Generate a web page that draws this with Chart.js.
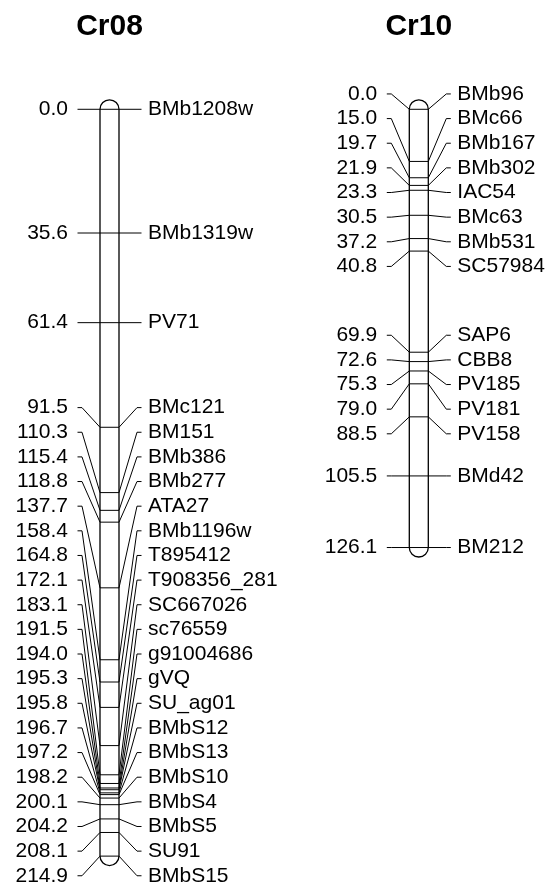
<!DOCTYPE html>
<html>
<head>
<meta charset="utf-8">
<script src="https://cdn.jsdelivr.net/npm/chart.js@4"></script>
<style>
  html, body { margin: 0; padding: 0; background: #fff; }
  canvas { display: block; }
</style>
</head>
<body>
<canvas id="map" width="547" height="886"></canvas>
<script>
// linkage groups
var groupNames = ["Cr08", "Cr10"];

var cr08Pos = [0.0, 35.6, 61.4, 91.5, 110.3, 115.4, 118.8, 137.7, 158.4, 164.8, 172.1, 183.1,
  191.5, 194.0, 195.3, 195.8, 196.7, 197.2, 198.2, 200.1, 204.2, 208.1, 214.9];
var cr08Markers = ["BMb1208w", "BMb1319w", "PV71", "BMc121", "BM151", "BMb386", "BMb277", "ATA27",
  "BMb1196w", "T895412", "T908356_281", "SC667026", "sc76559", "g91004686", "gVQ", "SU_ag01",
  "BMbS12", "BMbS13", "BMbS10", "BMbS4", "BMbS5", "SU91", "BMbS15"];

var cr10Pos = [0.0, 15.0, 19.7, 21.9, 23.3, 30.5, 37.2, 40.8, 69.9, 72.6, 75.3, 79.0, 88.5, 105.5, 126.1];
var cr10Markers = ["BMb96", "BMc66", "BMb167", "BMb302", "IAC54", "BMc63", "BMb531", "SC57984",
  "SAP6", "CBB8", "PV185", "PV181", "PV158", "BMd42", "BM212"];

// layout
var centers = [109.5, 418.8];   // x of each chromosome
var halfW = 9.5;                // half width of the bar
var arm = 22.5;                 // connector length each side
var bend = 4.5;                 // flat part of the connector at the label
var labelGap = 7.09;            // distance between stacked labels (cM)
var FONT = "Liberation Sans, Arial, sans-serif";

// push overlapping labels apart, each block centred on the middle of its markers
function spread(pos) {
  var groups = pos.map(function (p) { return { lo: p, hi: p, n: 1, c: p }; });
  var merged = true;
  while (merged) {
    merged = false;
    for (var i = 0; i < groups.length - 1; i++) {
      var a = groups[i], b = groups[i + 1];
      var aEnd = a.c + (a.n - 1) * labelGap / 2;
      var bStart = b.c - (b.n - 1) * labelGap / 2;
      if (bStart - aEnd < labelGap * 1.1) {
        groups.splice(i, 2, { lo: a.lo, hi: b.hi, n: a.n + b.n, c: (a.lo + b.hi) / 2 });
        merged = true;
        break;
      }
    }
  }
  var out = [];
  groups.forEach(function (g) {
    var first = g.c - (g.n - 1) * labelGap / 2;
    for (var k = 0; k < g.n; k++) out.push(first + k * labelGap);
  });
  return out;
}

var chroms = [
  { name: groupNames[0], pos: cr08Pos, markers: cr08Markers, x: centers[0] },
  { name: groupNames[1], pos: cr10Pos, markers: cr10Markers, x: centers[1] }
];
chroms.forEach(function (c) { c.labels = spread(c.pos); });

function connectorData(c) {
  var pts = [];
  c.pos.forEach(function (p, i) {
    var ly = c.labels[i];
    var l = c.x - halfW, r = c.x + halfW;
    pts.push({ x: l - arm, y: ly }, { x: l - arm + bend, y: ly }, { x: l, y: p },
             { x: r, y: p }, { x: r + arm - bend, y: ly }, { x: r + arm, y: ly },
             { x: r + arm, y: null });
  });
  return pts;
}

var mapPlugin = {
  id: "linkageMap",
  afterDatasetsDraw: function (chart) {
    var ctx = chart.ctx, xs = chart.scales.x, ys = chart.scales.y;
    ctx.save();
    chroms.forEach(function (c) {
      var l = xs.getPixelForValue(c.x - halfW), r = xs.getPixelForValue(c.x + halfW);
      var cx = (l + r) / 2, rad = (r - l) / 2;
      var top = ys.getPixelForValue(c.pos[0]), bot = ys.getPixelForValue(c.pos[c.pos.length - 1]);
      // chromosome body with round ends
      ctx.strokeStyle = "#000";
      ctx.lineWidth = 1.3;
      ctx.beginPath();
      ctx.moveTo(l, bot);
      ctx.lineTo(l, top);
      ctx.arc(cx, top, rad, Math.PI, 0, false);
      ctx.lineTo(r, bot);
      ctx.arc(cx, bot, rad, 0, Math.PI, false);
      ctx.stroke();

      // title
      ctx.fillStyle = "#000";
      ctx.font = "bold 30px " + FONT;
      ctx.textAlign = "center";
      ctx.textBaseline = "middle";
      ctx.fillText(c.name, cx, chart.chartArea.top + 27);

      // labels
      ctx.font = "21px " + FONT;
      c.pos.forEach(function (p, i) {
        var y = ys.getPixelForValue(c.labels[i]);
        ctx.textAlign = "right";
        ctx.fillText(p.toFixed(1), xs.getPixelForValue(c.x - halfW - arm - 9.5), y);
        ctx.textAlign = "left";
        ctx.fillText(c.markers[i], xs.getPixelForValue(c.x + halfW + arm + 6.5), y);
      });
    });
    ctx.restore();
  }
};

new Chart(document.getElementById("map"), {
  type: "line",
  data: {
    datasets: chroms.map(function (c) {
      return {
        label: c.name,
        data: connectorData(c),
        borderColor: "#000",
        borderWidth: 1,
        pointRadius: 0,
        tension: 0,
        spanGaps: false,
        fill: false
      };
    })
  },
  options: {
    responsive: false,
    animation: false,
    events: [],
    layout: { padding: 0 },
    plugins: { legend: { display: false }, title: { display: false }, tooltip: { enabled: false } },
    scales: {
      x: { type: "linear", min: 0, max: 547, display: false },
      y: { type: "linear", min: -31.45, max: 223.5, reverse: true, display: false }
    }
  },
  plugins: [mapPlugin]
});
</script>
</body>
</html>
